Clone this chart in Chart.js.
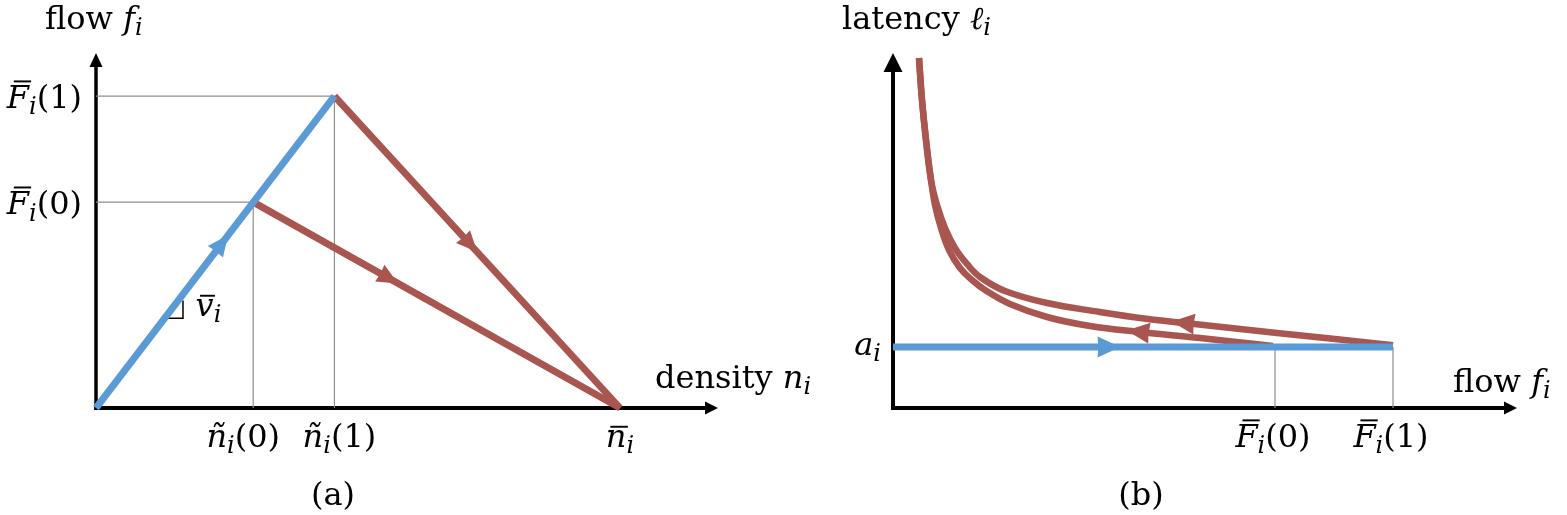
<!DOCTYPE html>
<html><head><meta charset="utf-8">
<script src="https://cdn.jsdelivr.net/npm/chart.js@4.4.1/dist/chart.umd.min.js"></script>
<style>
html,body{margin:0;padding:0;background:#fff;overflow:hidden}
#wrap{position:relative;width:1567px;height:515px;background:#fff}
canvas{position:absolute;top:0}
</style></head><body>
<div id="wrap">
<canvas id="ca" width="840" height="515" style="left:0"></canvas>
<canvas id="cb" width="784" height="515" style="left:783px"></canvas>
</div>
<script>
// ===== Panel (a): flow vs density =====
const densityTicks = [0.30, 0.455, 1.0];
const densityTickLabels = ['$ñ_i(0)$', '$ñ_i(1)$', '$n\u0304_i$'];
const flowTicksA = [0.66, 1.0];
const flowTickLabelsA = ['$F\u0304_i(0)$', '$F\u0304_i(1)$'];
const freeFlowDensity = [0, 0.455];
const freeFlowFlow = [0, 1.0];
const congestedHighDensity = [0.455, 1.0];
const congestedHighFlow = [1.0, 0];
const congestedLowDensity = [0.30, 1.0];
const congestedLowFlow = [0.66, 0];
const slopeMarkDensity = [0.13, 0.166, 0.166];
const slopeMarkFlow = [0.288, 0.288, 0.345];
const slopeLabel = '$v\u0304_i$';
const slopeLabelAt = [0.19, 0.295];
const arrowsA_dataset = [0, 1, 2];
const arrowsA_x = [0.24, 0.714, 0.559];
const arrowsA_dir = [1, 1, 1];

// ===== Panel (b): latency vs flow =====
const flowTicksB = [0.764, 1.0];
const flowTickLabelsB = ['$F\u0304_i(0)$', '$F\u0304_i(1)$'];
const latencyTicks = [1.0];
const latencyTickLabels = ['$a_i$'];
const freeLatencyFlow = [0, 1.0];
const freeLatency = [1.0, 1.0];
const upperCurveFlow = [0.052, 0.058, 0.066, 0.076, 0.088, 0.104, 0.124, 0.148, 0.174, 0.224, 0.308, 0.414, 0.494, 0.584, 0.768, 1.0];
const upperCurveLatency = [5.738, 5.049, 4.393, 3.738, 3.328, 2.951, 2.623, 2.361, 2.148, 1.918, 1.721, 1.574, 1.475, 1.393, 1.230, 1.03];
const lowerCurveFlow = [0.052, 0.058, 0.066, 0.076, 0.084, 0.096, 0.112, 0.134, 0.158, 0.184, 0.234, 0.308, 0.394, 0.494, 0.614, 0.760];
const lowerCurveLatency = [5.738, 5.049, 4.393, 3.738, 3.328, 2.951, 2.590, 2.295, 2.098, 1.934, 1.705, 1.492, 1.344, 1.246, 1.148, 1.016];
const arrowsB_dataset = [0, 1, 2];
const arrowsB_x = [0.432, 0.580, 0.490];
const arrowsB_dir = [1, -1, -1];

// ===== styles =====
const BLUE = '#5B9BD5', RED = '#A8564F', GREY = '#8f8f8f';
const FONT = '"DejaVu Serif", "Liberation Serif", serif';
const FS = 32;

function pts(xs, ys){ return xs.map((x,i)=>({x, y: ys[i]})); }

function parseMath(s){
  const runs=[]; let math=false, sub=false;
  for (const ch of s){
    if (ch==='$'){ math=!math; continue; }
    if (ch==='_'){ sub=true; continue; }
    if (ch==='\u0304'){ if (runs.length) runs[runs.length-1].bar=true; continue; }
    runs.push({t:ch, it: math && /[A-Za-zñℓ]/.test(ch), sub, bar:false});
    sub=false;
  }
  const out=[];
  for (const r of runs){
    const p=out[out.length-1];
    if (p && !p.bar && !r.bar && p.it===r.it && p.sub===r.sub) p.t+=r.t; else out.push({...r});
  }
  return out;
}
function fontFor(r,size){ return (r.it?'italic ':'')+Math.round(r.sub?size*0.74:size)+'px '+FONT; }
function drawMath(ctx, s, x, y, align, size){
  size = size || FS;
  const runs=parseMath(s);
  const ws=[]; let w=0;
  for (const r of runs){ ctx.font=fontFor(r,size); const m=ctx.measureText(r.t).width; ws.push(m); w+=m; }
  let cx = align==='center' ? x-w/2 : align==='right' ? x-w : x;
  ctx.save();
  ctx.fillStyle='#000'; ctx.textBaseline='alphabetic'; ctx.textAlign='left';
  runs.forEach((r,i)=>{
    ctx.font=fontFor(r,size);
    const yy = y + (r.sub ? size*0.2 : 0);
    ctx.fillText(r.t, cx, yy);
    if (r.bar){
      const upper=/[A-Z]/.test(r.t);
      const by = y - (upper ? size*0.80 : size*0.60) - 2;
      const off = upper ? size*0.22 : size*0.14;
      ctx.fillRect(cx+off, by, ws[i]-off*0.7, Math.max(1.6, size*0.06));
    }
    cx+=ws[i];
  });
  ctx.restore();
}

function arrowHead(ctx, tipX, tipY, dx, dy, L, W, color, notch){
  const bx=tipX-dx*L, by=tipY-dy*L, n=notch||0;
  ctx.beginPath();
  ctx.moveTo(tipX, tipY);
  ctx.lineTo(bx - dy*W/2, by + dx*W/2);
  ctx.lineTo(bx + dx*L*n, by + dy*L*n);
  ctx.lineTo(bx + dy*W/2, by - dx*W/2);
  ctx.closePath();
  ctx.fillStyle=color; ctx.fill();
}

function lineArrow(chart, ds, xv, dir, L, W){
  const dset=chart.data.datasets[ds], d=dset.data;
  let i=0; while (i<d.length-2 && d[i+1].x < xv) i++;
  const a=d[i], b=d[i+1];
  const t=(xv-a.x)/(b.x-a.x);
  const yv=a.y+t*(b.y-a.y);
  const sx=chart.scales.x, sy=chart.scales.y;
  const px=sx.getPixelForValue(xv), py=sy.getPixelForValue(yv);
  let dx=sx.getPixelForValue(b.x)-sx.getPixelForValue(a.x);
  let dy=sy.getPixelForValue(b.y)-sy.getPixelForValue(a.y);
  const n=Math.hypot(dx,dy); dx=dx/n*dir; dy=dy/n*dir;
  arrowHead(chart.ctx, px+dx*L/2, py+dy*L/2, dx, dy, L, W, dset.borderColor, 0.04);
}

function axesPlugin(cfg){
  return {
    id:'axes',
    beforeDatasetsDraw(chart){
      const ctx=chart.ctx, ca=chart.chartArea;
      const x0=chart.scales.x.getPixelForValue(0), y0=chart.scales.y.getPixelForValue(0);
      ctx.save();
      ctx.strokeStyle='#000'; ctx.lineCap='butt';
      ctx.lineWidth=cfg.yw;
      ctx.beginPath(); ctx.moveTo(x0, y0+2); ctx.lineTo(x0, ca.top+cfg.yaL-1); ctx.stroke();
      ctx.lineWidth=cfg.xw;
      ctx.beginPath(); ctx.moveTo(x0-cfg.yw/2, y0); ctx.lineTo(ca.right-cfg.xaL+1, y0); ctx.stroke();
      ctx.restore();
      arrowHead(ctx, x0, ca.top, 0, -1, cfg.yaL, cfg.yaW, '#000');
      arrowHead(ctx, ca.right, y0, 1, 0, cfg.xaL, cfg.xaW, '#000');
    },
    afterDatasetsDraw(chart){ cfg.extras(chart); }
  };
}

function baseOptions(xMax, yMax, pad){
  return {
    responsive:false, animation:false, events:[],
    devicePixelRatio:1,
    layout:{padding:pad},
    plugins:{legend:{display:false}, tooltip:{enabled:false}},
    scales:{
      x:{type:'linear', min:0, max:xMax, display:false},
      y:{type:'linear', min:0, max:yMax, display:false}
    }
  };
}
function ln(data, color, width, extra){
  return Object.assign({data, showLine:true, borderColor:color, backgroundColor:color,
    borderWidth:width, pointRadius:0, fill:false, tension:0, clip:false}, extra||{});
}

// ----- Chart (a)
const guidesA = flowTicksA.map((f,i)=>pts([0, densityTicks[i], densityTicks[i]], [f, f, 0]));
new Chart(document.getElementById('ca'), {
  type:'scatter',
  data:{datasets:[
    ln(pts(freeFlowDensity, freeFlowFlow), BLUE, 7),
    ln(pts(congestedHighDensity, congestedHighFlow), RED, 7),
    ln(pts(congestedLowDensity, congestedLowFlow), RED, 7),
    ln(pts(slopeMarkDensity, slopeMarkFlow), '#000', 1.5),
    ln(guidesA[0], GREY, 1.2),
    ln(guidesA[1], GREY, 1.2)
  ]},
  options: baseOptions(1.187, 1.138, {left:96, right:122, top:53, bottom:107}),
  plugins:[axesPlugin({yw:3.5, xw:4, yaL:14, yaW:13, xaL:13, xaW:13, extras(chart){
    const ctx=chart.ctx, ca=chart.chartArea, sx=chart.scales.x, sy=chart.scales.y;
    arrowsA_dataset.forEach((ds,i)=>lineArrow(chart, ds, arrowsA_x[i], arrowsA_dir[i], 21, 19));
    flowTicksA.forEach((v,i)=>drawMath(ctx, flowTickLabelsA[i], ca.left-14, sy.getPixelForValue(v)+12, 'right'));
    const shift=[-10, 5, 0];
    densityTicks.forEach((v,i)=>drawMath(ctx, densityTickLabels[i], sx.getPixelForValue(v)+shift[i], ca.bottom+39, 'center'));
    drawMath(ctx, 'flow $f_i$', ca.left-51, 29, 'left');
    drawMath(ctx, 'density $n_i$', ca.right-63, ca.bottom-20, 'left');
    drawMath(ctx, slopeLabel, sx.getPixelForValue(slopeLabelAt[0]), sy.getPixelForValue(slopeLabelAt[1]), 'left');
    drawMath(ctx, '(a)', ca.left+237, 505, 'center');
  }})]
});

// ----- Chart (b)
new Chart(document.getElementById('cb'), {
  type:'scatter',
  data:{datasets:[
    ln(pts(freeLatencyFlow, freeLatency), BLUE, 7),
    ln(pts(upperCurveFlow, upperCurveLatency), RED, 6.5, {tension:0.4}),
    ln(pts(lowerCurveFlow, lowerCurveLatency), RED, 6.5, {tension:0.4}),
    ln(pts([flowTicksB[0], flowTicksB[0]], [latencyTicks[0], 0]), GREY, 1.2),
    ln(pts([flowTicksB[1], flowTicksB[1]], [latencyTicks[0], 0]), GREY, 1.2)
  ]},
  options: baseOptions(1.248, 5.82, {left:110, right:50, top:53, bottom:107}),
  plugins:[axesPlugin({yw:4, xw:4, yaL:19, yaW:19, xaL:13, xaW:13, extras(chart){
    const ctx=chart.ctx, ca=chart.chartArea, sx=chart.scales.x, sy=chart.scales.y;
    arrowsB_dataset.forEach((ds,i)=>lineArrow(chart, ds, arrowsB_x[i], arrowsB_dir[i], 23, 21));
    latencyTicks.forEach((v,i)=>drawMath(ctx, latencyTickLabels[i], ca.left-12, sy.getPixelForValue(v)+8, 'right'));
    flowTicksB.forEach((v,i)=>drawMath(ctx, flowTickLabelsB[i], sx.getPixelForValue(v)-2, ca.bottom+39, 'center'));
    drawMath(ctx, 'latency $ℓ_i$', ca.left-51, 29, 'left');
    drawMath(ctx, 'flow $f_i$', ca.right-64, ca.bottom-16, 'left');
    drawMath(ctx, '(b)', ca.left+248, 505, 'center');
  }})]
});
</script>
</body></html>
